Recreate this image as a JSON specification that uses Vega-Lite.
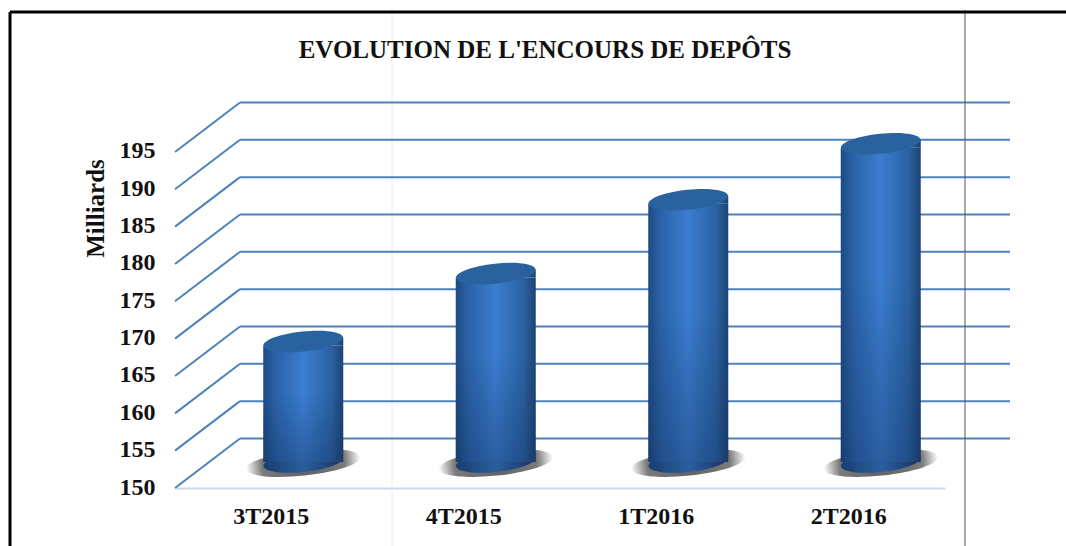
{
"$schema":"https://vega.github.io/schema/vega-lite/v6.json",
"width":770,"height":418,
"autosize":{"type":"none"},
"padding":{"left":175,"top":70,"right":121,"bottom":58},
"background":"white",
"config":{"view":{"stroke":null},"font":"Liberation Serif"},
"title":{"text":"EVOLUTION DE L'ENCOURS DE DEPÔTS","font":"Liberation Serif","fontSize":25,"fontWeight":"bold","color":"#111111","anchor":"middle","offset":-53,"dx":-15},
"datasets":{
"bars":[{"trimestre":"3T2015","encours":166.4},{"trimestre":"4T2015","encours":175.5},{"trimestre":"1T2016","encours":185.4},{"trimestre":"2T2016","encours":192.9}],
"grid":[{"niveau":150,"fond":156.63},{"niveau":155,"fond":161.63},{"niveau":160,"fond":166.63},{"niveau":165,"fond":171.63},{"niveau":170,"fond":176.63},{"niveau":175,"fond":181.63},{"niveau":180,"fond":186.63},{"niveau":185,"fond":191.63},{"niveau":190,"fond":196.63},{"niveau":195,"fond":201.63}],
"frame":[{"a":-165,"b":891,"c":213.75,"d":213.75,"kind":"top"},{"a":-165,"b":-165,"c":142.2,"d":213.75,"kind":"left"}],
"verticals":[{"a":790,"c":142.2,"d":214,"kind":"dark"}],
"faint":[{"a":217,"c":142.2,"d":214}]
},
"layer":[
{"data":{"name":"faint"},"mark":{"type":"rule","color":"#e6ebee","strokeWidth":1,"clip":false},
 "encoding":{"x":{"field":"a","type":"quantitative","scale":{"domain":[0,770],"nice":false,"zero":false},"axis":null},"y":{"field":"c","type":"quantitative","scale":{"domain":[150,205.98],"nice":false,"zero":false},"axis":{"values":[150,155,160,165,170,175,180,185,190,195],"grid":false,"ticks":false,"domain":false,"labelFont":"Liberation Serif","labelFontSize":24,"labelFontWeight":"bold","labelColor":"#111111","labelPadding":20,"labelOffset":-1,"title":"Milliards","titleFont":"Liberation Serif","titleFontSize":25,"titleFontWeight":"bold","titleColor":"#111111","titleX":-80,"titleY":138,"titleAngle":270,"titleAlign":"center","titleBaseline":"middle"}},"y2":{"field":"d"}}},
{"data":{"name":"grid"},"mark":{"type":"rule","color":"#4f81bd","strokeWidth":2},
 "encoding":{"x":{"datum":65,"type":"quantitative","scale":{"domain":[0,770],"nice":false,"zero":false},"axis":null},"x2":{"datum":835},"y":{"field":"fond","type":"quantitative"}}},
{"data":{"name":"grid"},"mark":{"type":"rule","color":"#4f81bd","strokeWidth":2},
 "encoding":{"x":{"datum":0,"type":"quantitative","scale":{"domain":[0,770],"nice":false,"zero":false},"axis":null},"x2":{"datum":65},"y":{"field":"niveau","type":"quantitative"},"y2":{"field":"fond"}}},
{"data":{"name":"verticals"},"mark":{"type":"rule","color":"#555555","strokeWidth":1,"clip":false},
 "encoding":{"x":{"field":"a","type":"quantitative","scale":{"domain":[0,770],"nice":false,"zero":false},"axis":null},"y":{"field":"c","type":"quantitative"},"y2":{"field":"d"}}},
{"data":{"name":"frame"},"mark":{"type":"rule","color":"#000000","strokeWidth":3,"clip":false},
 "encoding":{"x":{"field":"a","type":"quantitative","scale":{"domain":[0,770],"nice":false,"zero":false},"axis":null},"x2":{"field":"b"},"y":{"field":"c","type":"quantitative"},"y2":{"field":"d"}}},
{"data":{"name":"bars"},"mark":{"type":"point","filled":true,"opacity":1,"shape":"M-1,0A1,0.22,0,1,1,1,0A1,0.22,0,1,1,-1,0Z","size":13225,"angle":-6,"xOffset":32,"yOffset":-25,
  "fill":{"gradient":"radial","x1":0.5,"y1":0.5,"r1":0,"x2":0.5,"y2":0.5,"r2":0.5,"stops":[{"offset":0,"color":"#5e5e5e"},{"offset":0.72,"color":"#7a7a7a"},{"offset":1,"color":"#ffffff"}]}},
 "encoding":{"x":{"field":"trimestre","type":"nominal","sort":null,"scale":{"type":"band"},"axis":null},"y":{"datum":150,"type":"quantitative"}}},
{"data":{"name":"bars"},"mark":{"type":"point","filled":true,"opacity":1,"shape":"M-1,0A1,0.25,0,1,1,1,0A1,0.25,0,1,1,-1,0Z","size":6400,"angle":-6,"xOffset":32,"yOffset":-26,
  "fill":{"gradient":"linear","x1":0,"x2":1,"y1":0,"y2":0,"stops":[{"offset":0,"color":"#183f70"},{"offset":0.5,"color":"#2a5f9f"},{"offset":1,"color":"#16345e"}]}},
 "encoding":{"x":{"field":"trimestre","type":"nominal","sort":null,"scale":{"type":"band"},"axis":null},"y":{"datum":150,"type":"quantitative"}}},
{"data":{"name":"bars"},"mark":{"type":"bar","size":80,"xOffset":32,"yOffset":-20,"y2Offset":-26,
  "fill":{"gradient":"linear","x1":0,"x2":1,"y1":0,"y2":0,"stops":[{"offset":0,"color":"#1d4a82"},{"offset":0.15,"color":"#2a62a8"},{"offset":0.5,"color":"#3b7ecf"},{"offset":0.85,"color":"#2a62a3"},{"offset":1,"color":"#1d4474"}]}},
 "encoding":{"x":{"field":"trimestre","type":"nominal","sort":null,"scale":{"type":"band"},"axis":{"title":null,"labelAngle":0,"ticks":false,"domainColor":"#c6d9f0","domainWidth":2,"labelFont":"Liberation Serif","labelFontSize":24,"labelFontWeight":"bold","labelColor":"#111111","labelPadding":16}},"y":{"field":"encours","type":"quantitative"},"y2":{"datum":150}}},
{"data":{"name":"bars"},"mark":{"type":"bar","size":80,"xOffset":32,"yOffset":-20,"y2Offset":-26,
  "fill":{"gradient":"linear","x1":0,"x2":0,"y1":0,"y2":1,"stops":[{"offset":0,"color":"rgba(15,40,80,0)"},{"offset":0.4,"color":"rgba(15,40,80,0)"},{"offset":1,"color":"rgba(15,40,80,0.35)"}]}},
 "encoding":{"x":{"field":"trimestre","type":"nominal","sort":null,"scale":{"type":"band"},"axis":null},"y":{"field":"encours","type":"quantitative"},"y2":{"datum":150}}},
{"data":{"name":"bars"},"mark":{"type":"point","filled":true,"opacity":1,"shape":"M0,-0.1L1,-0.1L1,0.1L0,0.1Z","size":6400,"xOffset":32,"yOffset":-24,
  "fill":{"gradient":"linear","x1":0,"x2":1,"y1":0,"y2":0,"stops":[{"offset":0,"color":"#3b7ecf"},{"offset":0.7,"color":"#2a62a3"},{"offset":1,"color":"#1d4474"}]}},
 "encoding":{"x":{"field":"trimestre","type":"nominal","sort":null,"scale":{"type":"band"},"axis":null},"y":{"field":"encours","type":"quantitative"}}},
{"data":{"name":"bars"},"mark":{"type":"point","filled":true,"opacity":1,"fill":"#2a62a0","shape":"M-1,0A1,0.25,0,1,1,1,0A1,0.25,0,1,1,-1,0Z","size":6400,"angle":-6,"xOffset":32,"yOffset":-24},
 "encoding":{"x":{"field":"trimestre","type":"nominal","sort":null,"scale":{"type":"band"},"axis":null},"y":{"field":"encours","type":"quantitative"}}}
],
"resolve":{"scale":{"x":"independent"},"axis":{"x":"independent"}}
}
